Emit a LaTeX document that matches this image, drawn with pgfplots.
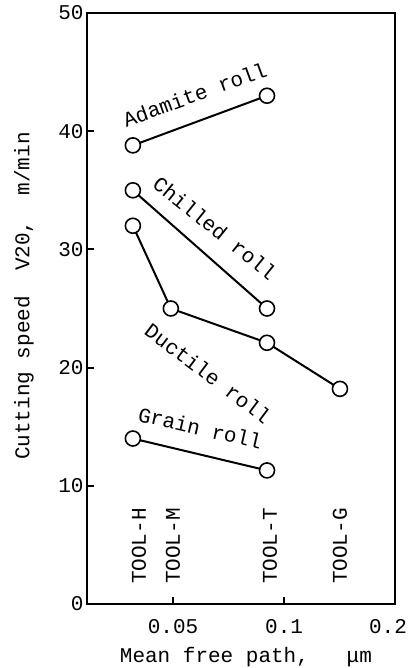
\documentclass[border=0pt]{standalone}
\usepackage{fontspec}
\setmainfont{Liberation Mono}
\setmonofont{Liberation Mono}
\usepackage{pgfplots}
\pgfplotsset{compat=1.18}

\begin{document}
\begin{tikzpicture}[font=\fontsize{21pt}{24pt}\selectfont]
\path[use as bounding box] (-87pt,-64pt) rectangle (323pt,604pt);
\begin{axis}[
  at={(0pt,0pt)}, anchor=south west,
  scale only axis, width=308pt, height=591pt,
  xmode=log, xmin=0.0292, xmax=0.2,
  ymin=0, ymax=50,
  xtick={0.05,0.1,0.2}, xticklabels={0.05,0.1,{\kern-14pt 0.2}},
  xminorticks=false,
  ytick={0,10,20,30,40,50},
  /pgf/number format/assume math mode=true,
  xtick pos=left, ytick pos=left,
  tick align=inside,
  major tick length=7pt,
  every tick/.style={black, line width=2pt},
  axis line style={line width=2pt},
  tick label style={font=\fontsize{21pt}{24pt}\selectfont},
  xticklabel style={yshift=-12pt},
  xlabel={Mean free path,\ \ \ μm},
  ylabel={Cutting speed\ \ V20,\ \ m/min},
  xlabel style={at={(axis description cs:0.516,0)}, anchor=center, yshift=-53pt},
  ylabel style={at={(axis description cs:-0.2045,0.521)}, anchor=center},
  rollline/.style={black, line width=2pt, mark=*, mark size=7.5pt,
    mark options={fill=white, draw=black, line width=1.6pt}},
]
% Adamite roll
\addplot[rollline] coordinates {(0.0389,38.8) (0.0899,43.0)};
% Chilled roll
\addplot[rollline] coordinates {(0.0389,35.0) (0.0899,25.0)};
% Ductile roll
\addplot[rollline] coordinates {(0.0389,32.0) (0.0493,25.0) (0.0899,22.1) (0.1418,18.2)};
% Grain roll
\addplot[rollline] coordinates {(0.0389,14.0) (0.0899,11.3)};

% series names along the lines
\node[rotate=20] at (axis cs:0.0573,43.1) {Adamite roll};
\node[rotate=-39] at (axis cs:0.0649,31.8) {Chilled roll};
\node[rotate=-37] at (axis cs:0.0622,19.5) {Ductile roll};
\node[rotate=-13] at (axis cs:0.0592,14.9) {Grain roll};

% tool grades
\node[xshift=6pt, rotate=90, anchor=west] at (axis cs:0.0389,1.4) {TOOL-H};
\node[xshift=2pt, rotate=90, anchor=west] at (axis cs:0.0493,1.4) {TOOL-M};
\node[xshift=3pt, rotate=90, anchor=west] at (axis cs:0.0899,1.4) {TOOL-T};
\node[xshift=0pt, rotate=90, anchor=west] at (axis cs:0.1418,1.4) {TOOL-G};
\end{axis}
\end{tikzpicture}
\end{document}
